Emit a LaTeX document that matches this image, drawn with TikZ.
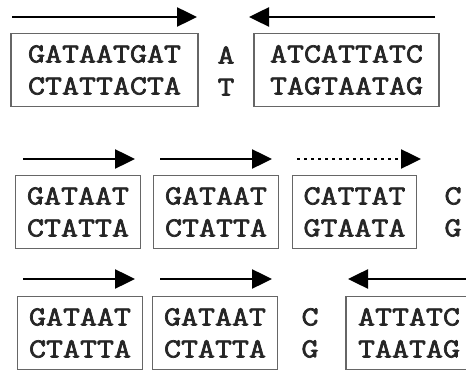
\documentclass[tikz,border=0pt]{standalone}
\usepackage{fontspec}
\setmonofont{Latin Modern Mono}[FakeStretch=1.2, FakeBold=2.6]
\usetikzlibrary{arrows.meta}
\begin{document}
\begin{tikzpicture}[x=1pt,y=-1pt,
  seq/.style={font=\ttfamily\fontsize{27.5}{32}\selectfont, text=black!85, align=center, inner sep=0pt},
  seqbox/.style={seq, draw=black!60, line width=1.5pt, minimum height=73pt},
  arr/.style={line width=2.5pt, -{Triangle[length=20pt,width=19pt]}},
  darr/.style={line width=2.5pt, dash pattern=on 2.5pt off 4.5pt, -{Triangle[length=20pt,width=19pt]}}]
\useasboundingbox (0,0) rectangle (466,371);
\clip (0,0) rectangle (466,371);
% row 1
\node[seqbox, minimum width=187pt] (b11) at (104.5,70) {GATAATGAT\\CTATTACTA};
\node[seq] (m1) at (226,71) {A\\T};
\node[seqbox, minimum width=185pt] (b12) at (346.5,70) {ATCATTATC\\TAGTAATAG};
\coordinate (a11s) at (12,17); \coordinate (a11e) at (197,17);
\coordinate (a12s) at (435,17); \coordinate (a12e) at (249,17);
\draw[arr] (a11s) -- (a11e);
\draw[arr] (a12s) -- (a12e);
% row 2
\node[seqbox, minimum width=125pt] (b21) at (78,212) {GATAAT\\CTATTA};
\node[seqbox, minimum width=125pt] (b22) at (216,212) {GATAAT\\CTATTA};
\node[seqbox, minimum width=124pt] (b23) at (354.5,212) {CATTAT\\GTAATA};
\node[seq] (m2) at (453,212) {C\\G};
\coordinate (a21s) at (23,159); \coordinate (a21e) at (135,159);
\coordinate (a22s) at (160,159); \coordinate (a22e) at (272,159);
\coordinate (a23s) at (297,159); \coordinate (a23e) at (421,159);
\draw[arr] (a21s) -- (a21e);
\draw[arr] (a22s) -- (a22e);
\draw[darr] (a23s) -- (a23e);
% row 3
\node[seqbox, minimum width=125pt] (b31) at (80,333) {GATAAT\\CTATTA};
\node[seqbox, minimum width=125pt] (b32) at (215,333) {GATAAT\\CTATTA};
\node[seq] (m3) at (310,333) {C\\G};
\node[seqbox, minimum width=126pt] (b33) at (409,333) {ATTATC\\TAATAG};
\coordinate (a31s) at (23,279); \coordinate (a31e) at (135,279);
\coordinate (a32s) at (160,279); \coordinate (a32e) at (272,279);
\coordinate (a33s) at (480,279); \coordinate (a33e) at (348,279);
\draw[arr] (a31s) -- (a31e);
\draw[arr] (a32s) -- (a32e);
\draw[arr] (a33s) -- (a33e);
\end{tikzpicture}
\end{document}
